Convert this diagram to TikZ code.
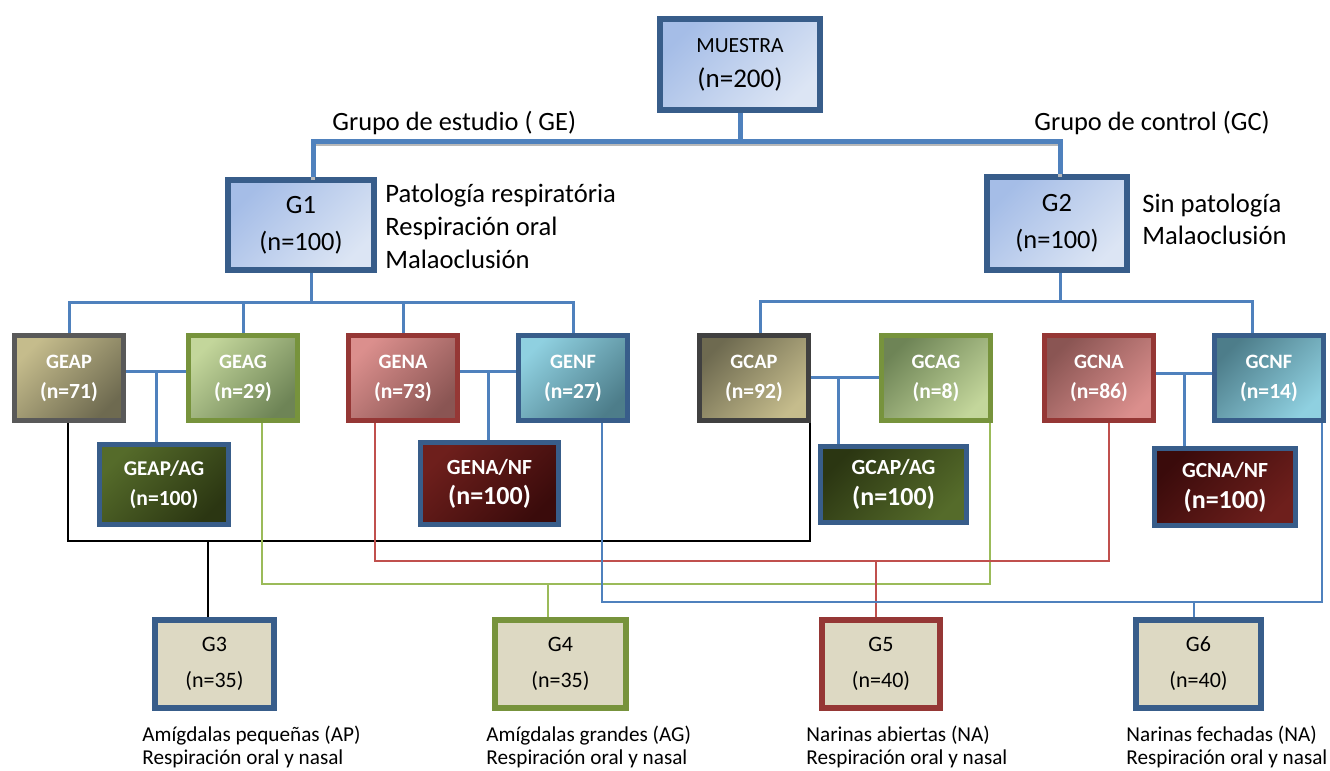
\documentclass[tikz,border=0pt]{standalone}
\usepackage{fontspec}
\setmainfont{Carlito}
\usepackage{tikz}
\usetikzlibrary{calc}
\usetikzlibrary{positioning}

\definecolor{cajaazul}{HTML}{385D8A}
\definecolor{azulA}{HTML}{A5BDE7}
\definecolor{azulB}{HTML}{DCE5F4}
\definecolor{tanA}{HTML}{C5BC8C}
\definecolor{tanB}{HTML}{6E6A50}
\definecolor{verdeA}{HTML}{C3D69B}
\definecolor{verdeB}{HTML}{6E8456}
\definecolor{bordeverde}{HTML}{77933C}
\definecolor{oscA}{HTML}{556B2A}
\definecolor{oscB}{HTML}{2B3612}
\definecolor{rojoA}{HTML}{DB8F8D}
\definecolor{rojoB}{HTML}{8A5553}
\definecolor{bordero}{HTML}{953735}
\definecolor{tealA}{HTML}{8FD0E0}
\definecolor{tealB}{HTML}{4D7D8A}
\definecolor{granA}{HTML}{6E1F1C}
\definecolor{granB}{HTML}{3A0B0B}
\definecolor{beige}{HTML}{DDD9C3}
\definecolor{lineazul}{HTML}{4F81BD}
\definecolor{lineverde}{HTML}{9BBB59}
\definecolor{linerojo}{HTML}{C0504D}

\newcommand{\nbig}[1]{{\fontsize{13}{15}\selectfont #1}}
\newcommand{\nmid}[1]{{\fontsize{10.8}{15}\selectfont #1}}

\begin{document}
\begin{tikzpicture}[x=0.5pt, y=-0.5pt,
  caja/.style={draw=cajaazul, line width=3pt, inner sep=0pt, align=center,
    top color=azulA, bottom color=azulB, shading angle=45},
  degrade/.style 2 args={top color=#1, bottom color=#2, shading angle=45},
  sub/.style={line width=2.5pt, inner sep=0pt, align=center, text=white,
    minimum width=54.5pt, minimum height=42.5pt,
    font=\bfseries\fontsize{10.2}{15}\selectfont},
  mezcla/.style={sub, draw=cajaazul},
  final/.style={line width=3pt, inner sep=0pt, align=center, fill=beige,
    minimum height=44pt, font=\fontsize{11}{18}\selectfont},
  nota/.style={anchor=west, align=left, inner sep=0pt},
  azul/.style={draw=lineazul, line width=1.5pt},
  barra/.style={draw=lineazul, line width=2.5pt},
  sombra/.style={draw=gray!55, line width=2pt, transform canvas={yshift=-1.5pt}},
  ]
  \useasboundingbox (0,0) rectangle (1330,771);

  % muestra y grupos
  \node[caja, minimum width=80pt, minimum height=45.5pt,
    font=\fontsize{10.8}{17.5}\selectfont] (muestra) at (740,64.5)
    {MUESTRA\\{\fontsize{13.5}{17.5}\selectfont(n=200)}};
  \node[caja, minimum width=73pt, minimum height=45pt,
    font=\fontsize{13.2}{18.5}\selectfont] (g1) at (301,225) {G1\\(n=100)};
  \node[caja, minimum width=70pt, minimum height=46.5pt,
    font=\fontsize{13.2}{18.5}\selectfont] (g2) at (1057,223.5) {G2\\(n=100)};

  \node[nota, font=\fontsize{13.2}{14}\selectfont] (ge txt) at (332,123) {Grupo de estudio ( GE)};
  \node[nota, font=\fontsize{13.2}{14}\selectfont] (gc txt) at (1034,123) {Grupo de control (GC)};
  \node[nota, font=\fontsize{13.3}{16.5}\selectfont] (g1 txt) at (385,226)
    {Patología respiratória\\Respiración oral\\Malaoclusión};
  \node[nota, font=\fontsize{13.3}{16}\selectfont] (g2 txt) at (1142,219)
    {Sin patología\\Malaoclusión};

  % subgrupos GE
  \node[sub, draw=black!65, degrade={tanA}{tanB}] (geap) at (69,378) {GEAP\\\nmid{(n=71)}};
  \node[sub, draw=bordeverde, degrade={verdeA}{verdeB}] (geag) at (243,378) {GEAG\\\nmid{(n=29)}};
  \node[sub, draw=bordero, degrade={rojoA}{rojoB}] (gena) at (403,378) {GENA\\\nmid{(n=73)}};
  \node[sub, draw=cajaazul, degrade={tealA}{tealB}] (genf) at (573,378) {GENF\\\nmid{(n=27)}};
  \node[mezcla, degrade={oscA}{oscB}, minimum width=64.5pt, minimum height=40pt,
    font=\bfseries\fontsize{10.5}{15}\selectfont] (geapag) at (164,484.5)
    {GEAP/AG\\\nmid{(n=100)}};
  \node[mezcla, degrade={granA}{granB}, minimum width=69pt, minimum height=41pt,
    font=\bfseries\fontsize{10.8}{15}\selectfont] (genanf) at (489.5,483.5)
    {GENA/NF\\\nbig{(n=100)}};

  % subgrupos GC
  \node[sub, draw=black!75, degrade={tanB}{tanA}] (gcap) at (754,378) {GCAP\\\nmid{(n=92)}};
  \node[sub, draw=bordeverde, degrade={verdeB}{verdeA}] (gcag) at (936,378) {GCAG\\\nmid{(n=8)}};
  \node[sub, draw=bordero, degrade={rojoB}{rojoA}] (gcna) at (1099,378) {GCNA\\\nmid{(n=86)}};
  \node[sub, draw=cajaazul, degrade={tealB}{tealA}] (gcnf) at (1269,378) {GCNF\\\nmid{(n=14)}};
  \node[mezcla, degrade={oscB}{oscA}, minimum width=73pt, minimum height=38pt,
    font=\bfseries\fontsize{10.8}{15.5}\selectfont] (gcapag) at (893.5,484.5)
    {GCAP/AG\\\nbig{(n=100)}};
  \node[mezcla, degrade={granB}{granA}, minimum width=70.5pt, minimum height=38.5pt,
    font=\bfseries\fontsize{10.8}{15.5}\selectfont] (gcnanf) at (1225,487)
    {GCNA/NF\\\nbig{(n=100)}};

  % grupos finales
  \node[final, draw=cajaazul, minimum width=59.5pt] (g3) at (214.5,664) {G3\\(n=35)};
  \node[final, draw=bordeverde, minimum width=65.5pt] (g4) at (560.5,664) {G4\\(n=35)};
  \node[final, draw=bordero, minimum width=59pt] (g5) at (881,664) {G5\\(n=40)};
  \node[final, draw=cajaazul, minimum width=62.5pt] (g6) at (1198.5,664) {G6\\(n=40)};

  \node[nota, font=\fontsize{10.6}{11.8}\selectfont] (g3 txt) at (142,747)
    {Amígdalas pequeñas (AP)\\Respiración oral y nasal};
  \node[nota, font=\fontsize{10.6}{11.8}\selectfont] (g4 txt) at (486,747)
    {Amígdalas grandes (AG)\\Respiración oral y nasal};
  \node[nota, font=\fontsize{10.6}{11.8}\selectfont] (g5 txt) at (806,747)
    {Narinas abiertas (NA)\\Respiración oral y nasal};
  \node[nota, font=\fontsize{10.6}{11.8}\selectfont] (g6 txt) at (1126,747)
    {Narinas fechadas (NA)\\Respiración oral y nasal};

  % barra superior
  \coordinate (top) at (740,141);
  \draw[sombra] ($(g1.north)+(12,0)$) |- (top) -| ($(g2.north)+(3,0)$);
  \draw[barra] ($(g1.north)+(12,0)$) |- (top) -| ($(g2.north)+(3,0)$);
  \draw[barra] (muestra.south) -- (top);

  % ramas GE y GC
  \coordinate (ge) at (311,302);
  \coordinate (gc) at (1060,301);
  \draw[azul] (g1.south -| ge) -- (ge);
  \draw[azul] (geap.north) |- (ge) -| (genf.north);
  \draw[azul] (geag.north) -- (geag.north |- ge);
  \draw[azul] (gena.north) -- (gena.north |- ge);
  \draw[azul] (g2.south -| gc) -- (gc);
  \draw[azul] ($(gcap.north)+(6,0)$) |- (gc) -| ($(gcnf.north)+(-17,0)$);
  \draw[azul] ($(gcag.north)+(21,0)$) -- ($(gcag.north)+(21,0)$ |- gc);
  \draw[azul] ($(gcna.north)+(24,0)$) -- ($(gcna.north)+(24,0)$ |- gc);

  % pares
  \coordinate (m1) at ($(geap.east)!0.5!(geag.west)+(0,-7)$);
  \draw[azul] (geap.east |- m1) -- (geag.west |- m1);
  \draw[azul] (m1) -- (m1 |- geapag.north);
  \coordinate (m2) at ($(gena.east)!0.5!(genf.west)+(0,-7)$);
  \draw[azul] (gena.east |- m2) -- (genf.west |- m2);
  \draw[azul] (m2) -- (m2 |- genanf.north);
  \coordinate (m3) at ($(gcap.east)!0.4!(gcag.west)+(0,-1)$);
  \draw[azul] (gcap.east |- m3) -- (gcag.west |- m3);
  \draw[azul] (m3) -- (m3 |- gcapag.north);
  \coordinate (m4) at ($(gcna.east)!0.5!(gcnf.west)+(0,-5)$);
  \draw[azul] (gcna.east |- m4) -- (gcnf.west |- m4);
  \draw[azul] (m4) -- (m4 |- gcnanf.north);

  % conexiones a grupos finales
  \coordinate (k3) at (208,541);
  \coordinate (k4) at (548,584);
  \coordinate (k5) at (876,561);
  \coordinate (k6) at (1194,602);
  \draw[black, line width=1pt] ($(geap.south)+(-1,0)$) |- (k3) -| ($(gcap.south east)+(-1,0)$);
  \draw[black, line width=1pt] (k3) -- (k3 |- g3.north);
  \draw[lineverde, line width=1pt] ($(geag.south)+(19,0)$) |- (k4) -| ($(gcag.south east)+(-3,0)$);
  \draw[lineverde, line width=1pt] (k4) -- (k4 |- g4.north);
  \draw[linerojo, line width=1pt] ($(gena.south)+(-28,0)$) |- (k5) -| ($(gcna.south)+(10,0)$);
  \draw[linerojo, line width=1pt] (k5) -- (k5 |- g5.north);
  \draw[lineazul, line width=1pt] ($(genf.south)+(29,0)$) |- (k6) -| ($(gcnf.south east)+(-4,0)$);
  \draw[lineazul, line width=1pt] (k6) -- (k6 |- g6.north);
\end{tikzpicture}
\end{document}
